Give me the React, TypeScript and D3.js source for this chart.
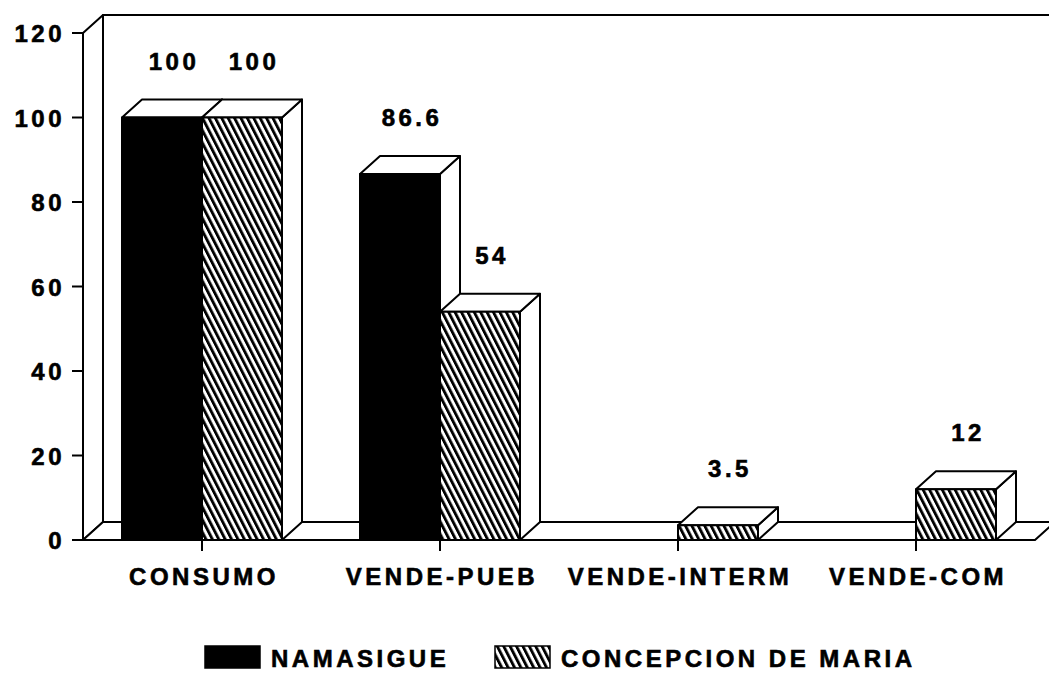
import React, { useEffect, useRef } from 'react';
import * as d3 from 'd3';

const categories = ['CONSUMO', 'VENDE-PUEB', 'VENDE-INTERM', 'VENDE-COM'];
const seriesNames = ['NAMASIGUE', 'CONCEPCION DE MARIA'];
const namasigue = [100, 86.6, 0, 0];
const concepcion = [100, 54, 3.5, 12];
const yTicks = [0, 20, 40, 60, 80, 100, 120];

const W = 1049;
const H = 676;
const FONT = 'Arial, "Liberation Sans", sans-serif';

const App: React.FC = () => {
  const svgRef = useRef<SVGSVGElement>(null);

  useEffect(() => {
    if (!svgRef.current) return;
    const svg = d3.select(svgRef.current);
    svg.selectAll('*').remove();

    const left = 83;
    const right = 1035;
    const dx = 20;
    const dy = -18;

    const y = d3.scaleLinear().domain([0, 120]).range([540, 33]);
    const pi = 78 / 238;
    const x0 = d3.scaleBand<string>()
      .domain(categories)
      .range([left, right])
      .paddingInner(pi)
      .paddingOuter(pi / 2);
    const x1 = d3.scaleBand<string>()
      .domain(seriesNames)
      .range([0, x0.bandwidth()]);

    // hatch pattern
    const defs = svg.append('defs');
    const pat = defs.append('pattern')
      .attr('id', 'hatch')
      .attr('patternUnits', 'userSpaceOnUse')
      .attr('width', 6.4)
      .attr('height', 10)
      .attr('patternTransform', 'skewX(27)');
    pat.append('rect').attr('width', 6.4).attr('height', 10).attr('fill', '#fff');
    pat.append('rect').attr('width', 3.2).attr('height', 10).attr('fill', '#000');

    const line = (pts: [number, number][]) => d3.line()(pts) + 'Z';
    const base = y(0);
    const top = y(120);

    const textStyle = (g: d3.Selection<SVGGElement, unknown, null, undefined>) =>
      g.attr('font-family', FONT)
        .attr('font-weight', 'bold')
        .attr('font-size', 24)
        .attr('fill', '#000')
        .attr('stroke', '#000')
        .attr('stroke-width', 0.6);

    // walls and floor
    const walls = svg.append('g')
      .attr('fill', '#fff')
      .attr('stroke', '#000')
      .attr('stroke-width', 2)
      .attr('stroke-linejoin', 'round');
    walls.append('path').attr('d', line([[left + dx, base + dy], [left + dx, top + dy], [right + dx + 40, top + dy], [right + dx + 40, base + dy]]));
    walls.append('path').attr('d', line([[left, base], [left, top], [left + dx, top + dy], [left + dx, base + dy]]));
    walls.append('path').attr('d', line([[left, base], [right, base], [right + dx, base + dy], [left + dx, base + dy]]));

    // y ticks
    const ax = svg.append('g').call(textStyle);
    yTicks.forEach(t => {
      ax.append('line')
        .attr('x1', left - 11).attr('x2', left)
        .attr('y1', y(t)).attr('y2', y(t))
        .attr('stroke-width', 2);
      ax.append('text')
        .attr('x', left - 18)
        .attr('y', y(t) + 9)
        .attr('text-anchor', 'end')
        .attr('letter-spacing', 3.5)
        .text(t);
    });

    // category ticks and labels
    categories.forEach(c => {
      const cx = (x0(c) || 0) + x0.bandwidth() / 2;
      ax.append('line')
        .attr('x1', cx).attr('x2', cx)
        .attr('y1', base).attr('y2', base + 11)
        .attr('stroke-width', 2);
      ax.append('text')
        .attr('x', cx + 2)
        .attr('y', base + 45)
        .attr('text-anchor', 'middle')
        .attr('letter-spacing', 3.5)
        .text(c);
    });

    // bars
    const bars = svg.append('g').attr('stroke', '#000').attr('stroke-width', 2).attr('stroke-linejoin', 'round');
    const labels = svg.append('g').call(textStyle);
    const seriesData = [namasigue, concepcion];
    categories.forEach((c, i) => {
      seriesData.forEach((vals, s) => {
        const v = vals[i];
        if (!v) return;
        const bx = (x0(c) || 0) + (x1(seriesNames[s]) || 0);
        const bw = x1.bandwidth();
        const yt = y(v);
        bars.append('path')
          .attr('fill', '#fff')
          .attr('d', line([[bx + bw, yt], [bx + bw + dx, yt + dy], [bx + bw + dx, base + dy], [bx + bw, base]]));
        bars.append('path')
          .attr('fill', '#fff')
          .attr('d', line([[bx, yt], [bx + dx, yt + dy], [bx + bw + dx, yt + dy], [bx + bw, yt]]));
        bars.append('rect')
          .attr('x', bx).attr('y', yt)
          .attr('width', bw).attr('height', base - yt)
          .attr('fill', s === 0 ? '#000' : 'url(#hatch)');
        labels.append('text')
          .attr('x', bx + bw / 2 + dx / 2 + 2)
          .attr('y', yt + dy - 30)
          .attr('text-anchor', 'middle')
          .attr('letter-spacing', 3.5)
          .text(v);
      });
    });

    // legend
    const lg = svg.append('g').call(textStyle);
    const legendX = [205, 495];
    seriesNames.forEach((n, s) => {
      lg.append('rect')
        .attr('x', legendX[s]).attr('y', 646)
        .attr('width', 55).attr('height', 22)
        .attr('fill', s === 0 ? '#000' : 'url(#hatch)')
        .attr('stroke-width', 1.5);
      lg.append('text')
        .attr('x', legendX[s] + 66)
        .attr('y', 667)
        .attr('letter-spacing', 3.5)
        .text(n);
    });
  }, []);

  return (
    <svg
      ref={svgRef}
      width={W}
      height={H}
      style={{ position: 'absolute', left: 0, top: 0, background: '#fff' }}
    />
  );
};

export default App;
